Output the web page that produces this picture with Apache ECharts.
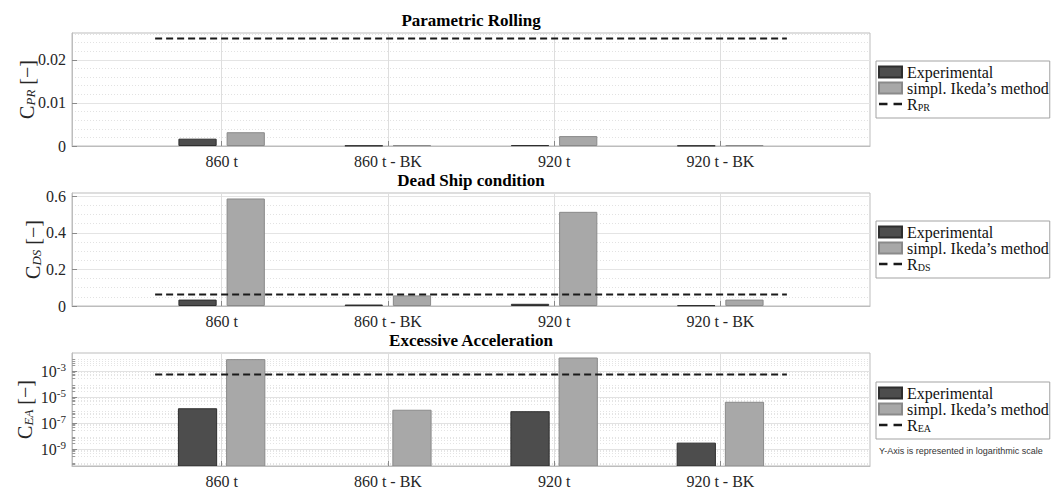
<!DOCTYPE html>
<html>
<head>
<meta charset="utf-8">
<script src="https://cdn.jsdelivr.net/npm/echarts@6/dist/echarts.min.js"></script>
<style>
  html, body { margin: 0; padding: 0; background: #fff; }
  #chart { width: 1062px; height: 490px; }
</style>
</head>
<body>
<div id="chart"></div>
<script>
// Loading conditions and their positions on the shared x scale
const categories = ['860 t', '860 t - BK', '920 t', '920 t - BK'];
const categoryPos = [1, 2, 3, 4];

// Parametric rolling criterion
const prExperimental = [0.0017, 0.0001, 0.0002, 0.0001];
const prIkeda = [0.0032, 0.0002, 0.0023, 0.0002];
const prLimit = 0.025;
const prTicks = [0, 0.01, 0.02];

// Dead ship condition criterion
const dsExperimental = [0.035, 0.008, 0.012, 0.004];
const dsIkeda = [0.588, 0.058, 0.515, 0.035];
const dsLimit = 0.063;
const dsTicks = [0, 0.2, 0.4, 0.6];

// Excessive acceleration criterion (log scale; no experimental value for 860 t - BK)
const eaExperimental = [1.3e-6, null, 7.7e-7, 2.9e-9];
const eaIkeda = [8.0e-3, 1.0e-6, 1.07e-2, 4.1e-6];
const eaLimit = 5.6e-4;
const eaTicks = [1e-9, 1e-7, 1e-5, 1e-3];

// ---- layout / style constants ----
const X_RANGE = [0.1, 4.9];
const LIMIT_SPAN = [0.6, 4.4];
const PR_RANGE = [0, 0.02625];
const DS_RANGE = [0, 0.618];
const EA_RANGE = [5e-11, 0.026];
const BAR_WIDTH = 0.23;   // fraction of one category step
const BAR_GAP = 0.26;     // fraction of the bar width
const SERIF = 'Liberation Serif, serif';
const SANS = 'Liberation Sans, sans-serif';
const LABEL = '#262626';
const FRAME = '#bdbdbd';
const EXP_FILL = '#4d4d4d', EXP_EDGE = '#2e2e2e';
const IKE_FILL = '#a8a8a8', IKE_EDGE = '#8a8a8a';
const NAME_EXP = 'Experimental';
const NAME_IKE = 'simpl. Ikeda’s method';

const grids = [
  { left: 72, top: 33, width: 798, height: 113 },
  { left: 72, top: 193, width: 798, height: 113 },
  { left: 72, top: 353, width: 798, height: 113 }
].map(g => Object.assign({ show: true, borderColor: FRAME, borderWidth: 1, backgroundColor: '#fff' }, g));

function xAxisFor(gridIndex) {
  return {
    type: 'value', gridIndex, min: X_RANGE[0], max: X_RANGE[1],
    axisLine: { show: true, lineStyle: { color: FRAME } },
    axisTick: { show: true, inside: true, length: 5, customValues: categoryPos, lineStyle: { color: '#8a8a8a' } },
    axisLabel: {
      customValues: categoryPos, margin: 7,
      formatter: v => categories[Math.round(v) - 1] || '',
      fontFamily: SERIF, fontSize: 16, color: LABEL
    },
    splitLine: { show: true, lineStyle: { color: '#dedede', width: 1 } }
  };
}

function yName(sub) {
  return '{c|C}{s|' + sub + '} {c|[−]}';
}
const nameStyle = {
  fontFamily: SERIF, fontSize: 20, color: LABEL,
  rich: {
    c: { fontFamily: SERIF, fontSize: 20, color: LABEL },
    s: { fontFamily: SERIF, fontSize: 13, fontStyle: 'italic', color: LABEL, verticalAlign: 'bottom', padding: [6, 0, 0, 0] }
  }
};

function linearYAxis(gridIndex, range, ticks, splitNumber, minorSplit, sub, nameGap) {
  return {
    type: 'value', gridIndex, min: range[0], max: range[1], splitNumber,
    name: yName(sub), nameLocation: 'middle', nameGap, nameRotate: 90, nameTextStyle: nameStyle,
    nameMoveOverlap: false,
    axisLine: { show: true, lineStyle: { color: FRAME } },
    axisTick: { show: true, inside: true, length: 5, customValues: ticks, lineStyle: { color: '#8a8a8a' } },
    axisLabel: {
      customValues: ticks, margin: 6,
      formatter: v => (v === 0 ? '0' : String(+v.toFixed(4))),
      fontFamily: SERIF, fontSize: 16, color: LABEL
    },
    splitLine: { show: true, lineStyle: { color: '#e4e4e4', width: 1 } },
    minorTick: { show: false, splitNumber: minorSplit },
    minorSplitLine: { show: true, lineStyle: { color: '#e2e2e2', type: [1, 2], width: 1 } }
  };
}

const logYAxis = {
  type: 'log', logBase: 10, gridIndex: 2, min: EA_RANGE[0], max: EA_RANGE[1],
  name: yName('EA'), nameLocation: 'middle', nameGap: 37, nameRotate: 90, nameTextStyle: nameStyle,
  nameMoveOverlap: false,
  axisLine: { show: true, lineStyle: { color: FRAME } },
  axisTick: { show: true, inside: true, length: 5, customValues: eaTicks, lineStyle: { color: '#8a8a8a' } },
  minorTick: { show: true, splitNumber: 5, length: 3, lineStyle: { color: '#9a9a9a' } },
  axisLabel: {
    customValues: eaTicks, margin: 6,
    formatter: v => '{b|10}{sup|' + Math.round(Math.log10(v)) + '}',
    rich: {
      b: { fontFamily: SERIF, fontSize: 16, color: LABEL },
      sup: { fontFamily: SERIF, fontSize: 11, color: LABEL, verticalAlign: 'top', padding: [0, 0, 8, 0] }
    }
  },
  splitLine: { show: true, lineStyle: { color: '#e2e2e2', width: 1 } },
  minorSplitLine: { show: true, lineStyle: { color: '#e4e4e4', type: [1, 2], width: 1 } }
};

function pairs(values) {
  return categoryPos.map((x, i) => [x, values[i]]);
}

function barSeries(name, values, axisIndex, fill, edge) {
  return {
    name, type: 'bar', xAxisIndex: axisIndex, yAxisIndex: axisIndex,
    data: pairs(values),
    barWidth: (BAR_WIDTH * 100) + '%', barGap: (BAR_GAP * 100) + '%',
    itemStyle: { color: fill, borderColor: edge, borderWidth: 1 },
    emphasis: { disabled: true }, silent: true
  };
}

function limitSeries(name, value, axisIndex) {
  return {
    name, type: 'line', xAxisIndex: axisIndex, yAxisIndex: axisIndex,
    data: LIMIT_SPAN.map(x => [x, value]),
    symbol: 'none', silent: true, z: 5,
    lineStyle: { color: '#1a1a1a', width: 2, type: [7, 4] },
    itemStyle: { color: '#1a1a1a' }
  };
}

// Bars on the log panel grow from the bottom of the axis range
function logBars(name, values, side, fill, edge) {
  return {
    name, type: 'custom', xAxisIndex: 2, yAxisIndex: 2, silent: true, clip: true,
    data: pairs(values).filter(d => d[1] > 0),
    encode: { x: 0, y: 1 },
    itemStyle: { color: fill },
    renderItem: function (params, api) {
      const x = api.value(0), v = api.value(1);
      if (!(v > 0)) return null;
      const top = api.coord([x, v]);
      const unit = api.coord([x + 1, v])[0] - top[0];
      const w = unit * BAR_WIDTH;
      const cx = top[0] + side * unit * BAR_WIDTH * (1 + BAR_GAP) / 2;
      const base = api.coord([x, EA_RANGE[0]])[1];
      return {
        type: 'rect',
        shape: { x: cx - w / 2, y: top[1], width: w, height: base - top[1] },
        style: { fill, stroke: edge, lineWidth: 1 }
      };
    }
  };
}

// Two short dashes for the threshold entry
const DASH_ICON = 'path://M0,0H7V2H0Z M12,0H19V2H12Z';

function legendFor(top, limitName) {
  return {
    orient: 'vertical', left: 876, top,
    data: [
      { name: NAME_EXP, icon: 'rect' },
      { name: NAME_IKE, icon: 'rect' },
      { name: limitName, icon: DASH_ICON, itemStyle: { color: '#1a1a1a' } }
    ],
    itemWidth: 23, itemHeight: 11, itemGap: 0,
    symbolKeepAspect: true,
    padding: [3, 1, 6, 2],
    borderColor: '#a3a3a3', borderWidth: 1, backgroundColor: '#fff',
    selectedMode: false,
    formatter: n => (n.indexOf('R_') === 0 ? '{r|R}{s|' + n.slice(2) + '}' : n),
    textStyle: {
      fontFamily: SERIF, fontSize: 16, color: '#111', lineHeight: 16,
      rich: {
        r: { fontFamily: SERIF, fontSize: 16, color: '#111' },
        s: { fontFamily: SERIF, fontSize: 10, color: '#111', verticalAlign: 'bottom', padding: [5, 0, 0, 0] }
      }
    }
  };
}

function titleText(text, y) {
  return {
    type: 'text', x: 471, y,
    style: { text, fontFamily: SERIF, fontSize: 17, fontWeight: 'bold', fill: '#000', align: 'center', verticalAlign: 'middle' }
  };
}

const option = {
  animation: false,
  textStyle: { fontFamily: SERIF },
  grid: grids,
  xAxis: [xAxisFor(0), xAxisFor(1), xAxisFor(2)],
  yAxis: [
    linearYAxis(0, PR_RANGE, prTicks, 2, 5, 'PR', 35),
    linearYAxis(1, DS_RANGE, dsTicks, 3, 4, 'DS', 29),
    logYAxis
  ],
  legend: [legendFor(61, 'R_PR'), legendFor(221, 'R_DS'), legendFor(382, 'R_EA')],
  graphic: [
    titleText('Parametric Rolling', 20),
    titleText('Dead Ship condition', 180),
    titleText('Excessive Acceleration', 340),
    {
      type: 'text', x: 879, y: 451,
      style: { text: 'Y-Axis is represented in logarithmic scale', fontFamily: SANS, fontSize: 9, fill: '#333', align: 'left', verticalAlign: 'middle' }
    }
  ],
  series: [
    barSeries(NAME_EXP, prExperimental, 0, EXP_FILL, EXP_EDGE),
    barSeries(NAME_IKE, prIkeda, 0, IKE_FILL, IKE_EDGE),
    limitSeries('R_PR', prLimit, 0),
    barSeries(NAME_EXP, dsExperimental, 1, EXP_FILL, EXP_EDGE),
    barSeries(NAME_IKE, dsIkeda, 1, IKE_FILL, IKE_EDGE),
    limitSeries('R_DS', dsLimit, 1),
    logBars(NAME_EXP, eaExperimental, -1, EXP_FILL, EXP_EDGE),
    logBars(NAME_IKE, eaIkeda, 1, IKE_FILL, IKE_EDGE),
    limitSeries('R_EA', eaLimit, 2)
  ]
};

const chart = echarts.init(document.getElementById('chart'), null, { renderer: 'svg' });
chart.setOption(option);
</script>
</body>
</html>
